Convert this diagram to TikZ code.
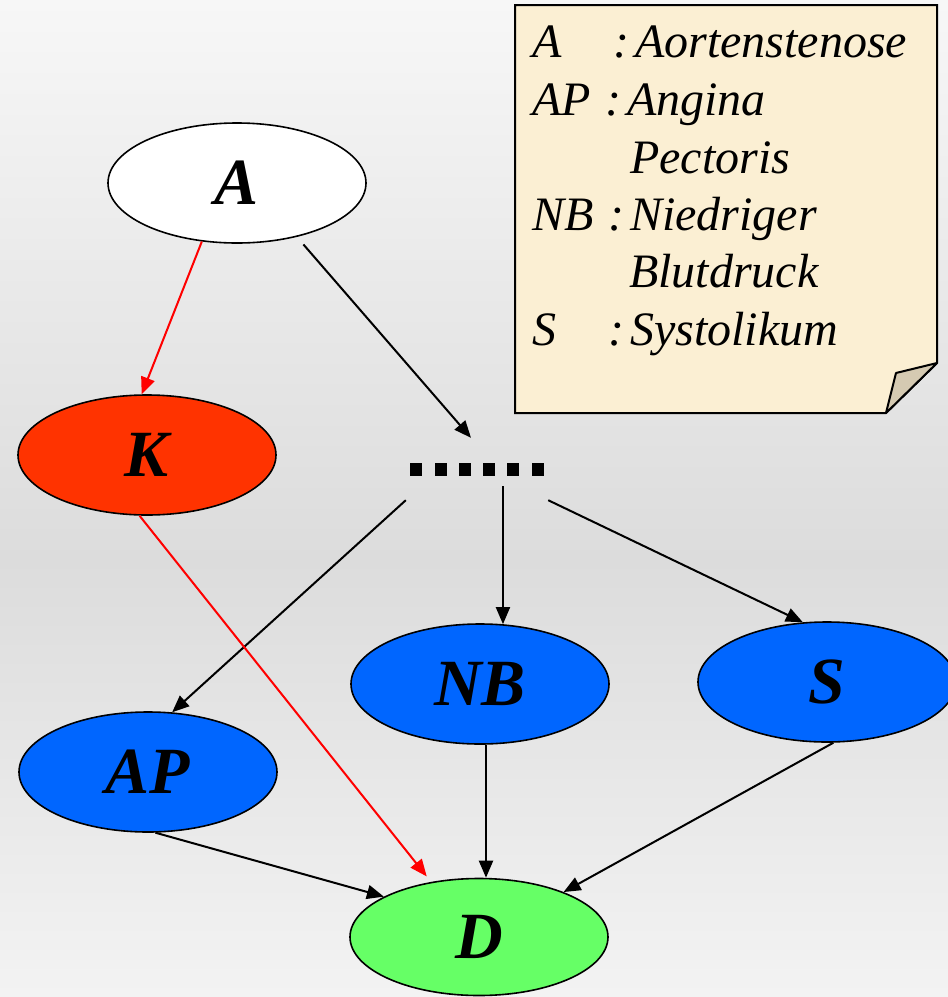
\documentclass[tikz,border=0pt]{standalone}
\usepackage{fontspec}
\setmainfont{Liberation Serif}
\usetikzlibrary{arrows.meta,shapes.geometric,calc}
\definecolor{kred}{HTML}{FF3300}
\definecolor{nblue}{HTML}{0066FF}
\definecolor{dgreen}{HTML}{66FF66}
\definecolor{notefill}{HTML}{FBEFD3}
\definecolor{flapfill}{HTML}{D5CAB2}
\definecolor{bgtop}{HTML}{F7F7F7}
\definecolor{bgmid}{HTML}{DCDCDC}
\definecolor{bgbot}{HTML}{F3F3F3}
\newcommand{\colgap}{:\hspace{6pt}}
\begin{document}
\begin{tikzpicture}[x=1pt,y=-1pt,
  ell/.style={ellipse,draw=black,line width=1.6pt,minimum width=258pt,minimum height=120pt,inner sep=0pt,
    font=\fontsize{66}{70}\selectfont\bfseries\itshape},
  arr/.style={line width=2pt,-{Triangle[length=17pt,width=14pt]}},
  rarr/.style={arr,red},
  leg/.style={anchor=base west,inner sep=0pt,font=\fontsize{48}{57}\selectfont\itshape}]
\useasboundingbox (0,0) rectangle (948,997);
\shade[top color=bgtop,bottom color=bgmid] (0,0) rectangle (948,560);
\shade[top color=bgmid,bottom color=bgbot] (0,559) rectangle (948,997);
% note
\draw[fill=notefill,line width=2pt,line join=miter] (515,5) -- (937,5) -- (937,363) -- (886,413) -- (515,413) -- cycle;
\draw[fill=flapfill,line width=2pt,line join=round] (937,363) -- (896,373) -- (886,413) -- cycle;
\node[leg] (l1) at (532,57) {\makebox[81pt][l]{A}\colgap Aortenstenose};
\node[leg] (l2) at (532,115) {\makebox[73pt][l]{AP}\colgap Angina};
\node[leg] (l3) at (630,173) {Pectoris};
\node[leg] (l4) at (532,230) {\makebox[76pt][l]{NB}\colgap Niedriger};
\node[leg] (l5) at (629,287) {Blutdruck};
\node[leg] (l6) at (532,345) {\makebox[76pt][l]{S}\colgap Systolikum};
% nodes
\node[ell,fill=white] (A) at (237,183) {A};
\node[ell,fill=kred] (K) at (147,455) {K};
\node[ell,fill=nblue] (NB) at (480,684) {NB};
\node[ell,fill=nblue] (S) at (827,682) {S};
\node[ell,fill=nblue] (AP) at (148,772) {AP};
\node[ell,fill=dgreen,minimum height=117pt] (D) at (479,937) {D};
\node[inner sep=0pt,minimum width=142pt,minimum height=62pt] (dots) at (477,469)
  {\rule{12pt}{13pt}\hspace{12.3pt}\rule{12pt}{13pt}\hspace{12.3pt}\rule{12pt}{13pt}\hspace{12.3pt}\rule{12pt}{13pt}\hspace{12.3pt}\rule{12pt}{13pt}\hspace{12.3pt}\rule{12pt}{13pt}};
% connectors
\draw[rarr] (A.239) -- (K.95);
\draw[arr,shorten <=10pt] (A.318) -- ([xshift=-6pt]dots.north);
\draw[arr] (dots.south west) -- (AP.68);
\draw[arr] ([yshift=14pt]dots.south -| NB.69) -- (NB.69);
\draw[arr] (dots.south east) -- (S.112);
\draw[rarr,shorten >=7pt] (K.263) -- (D.131);
\draw[arr] (AP.277) -- (D.157);
\draw[arr] ([xshift=6pt]NB.south) -- ([xshift=6pt]NB.south |- D.north);
\draw[arr] (S.276) -- (D.28);
\end{tikzpicture}
\end{document}
